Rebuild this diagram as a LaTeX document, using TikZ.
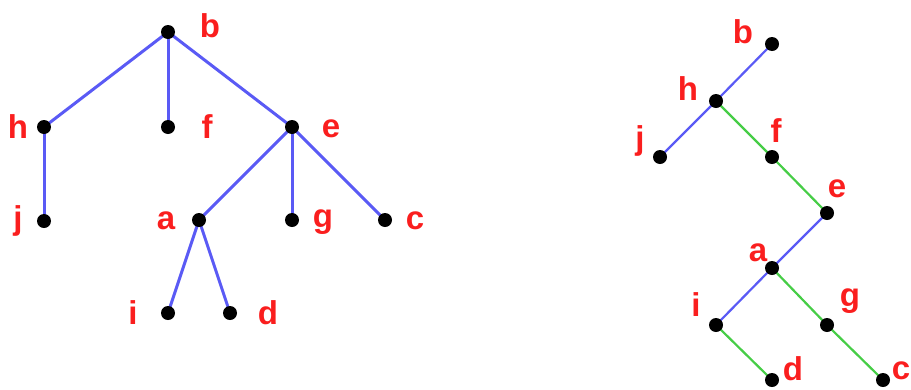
\documentclass[tikz,border=0pt]{standalone}
\usepackage{fontspec}
\setmainfont{Liberation Sans}
\usetikzlibrary{backgrounds}
\definecolor{edgeblue}{RGB}{90,90,245}
\definecolor{edgegreen}{RGB}{70,205,70}
\definecolor{labelred}{RGB}{250,30,30}
\begin{document}
\begin{tikzpicture}[x=1pt,y=-1pt,
  vtx/.style={circle,fill=black,inner sep=0pt,minimum size=14pt},
  lbl/.style={text=labelred,font=\fontsize{33}{33}\selectfont\bfseries,inner sep=0pt,anchor=center},
  bl/.style={draw=edgeblue,line width=3pt},
  blthin/.style={draw=edgeblue,line width=2.2pt},
  gr/.style={draw=edgegreen,line width=2.2pt}]
\useasboundingbox (0,0) rectangle (911,389);

% left tree: vertices
\node[vtx] (Lb) at (168,32) {};
\node[vtx] (Lh) at (44,127) {};
\node[vtx] (Lf) at (168,127) {};
\node[vtx] (Le) at (292,127) {};
\node[vtx] (Lj) at (44,221) {};
\node[vtx] (La) at (199,220) {};
\node[vtx] (Lg) at (292,220) {};
\node[vtx] (Lc) at (385,220) {};
\node[vtx] (Li) at (168,313) {};
\node[vtx] (Ld) at (230,313) {};

% left tree: edges, kept under the vertices
\begin{pgfonlayer}{background}
\draw[bl] (Lb.center) -- (Lh.center);
\draw[bl] (Lb.center) -- (Lf.center);
\draw[bl] (Lb.center) -- (Le.center);
\draw[bl] (Lh.center) -- (Lj.center);
\draw[bl] (Le.center) -- (La.center);
\draw[bl] (Le.center) -- (Lg.center);
\draw[bl] (Le.center) -- (Lc.center);
\draw[bl] (La.center) -- (Li.center);
\draw[bl] (La.center) -- (Ld.center);
\end{pgfonlayer}

% left tree: labels
\node[lbl] (tLb) at (210,26) {b};
\node[lbl] (tLh) at (18,127) {h};
\node[lbl] (tLf) at (207,127) {f};
\node[lbl] (tLe) at (331,129) {e};
\node[lbl] (tLj) at (18,221) {j};
\node[lbl] (tLa) at (166,221) {a};
\node[lbl] (tLg) at (323,222) {g};
\node[lbl] (tLc) at (415,221) {c};
\node[lbl] (tLi) at (133,313) {i};
\node[lbl] (tLd) at (268,313) {d};

% right tree: vertices
\node[vtx] (Rb) at (772,44) {};
\node[vtx] (Rh) at (716,101) {};
\node[vtx] (Rj) at (660,157) {};
\node[vtx] (Rf) at (772,157) {};
\node[vtx] (Re) at (827,213) {};
\node[vtx] (Ra) at (772,268) {};
\node[vtx] (Ri) at (716,325) {};
\node[vtx] (Rg) at (827,325) {};
\node[vtx] (Rd) at (772,380) {};
\node[vtx] (Rc) at (883,380) {};

% right tree: edges, kept under the vertices
\begin{pgfonlayer}{background}
\draw[blthin] (Rb.center) -- (Rh.center);
\draw[blthin] (Rh.center) -- (Rj.center);
\draw[gr] (Rh.center) -- (Rf.center);
\draw[gr] (Rf.center) -- (Re.center);
\draw[blthin] (Re.center) -- (Ra.center);
\draw[blthin] (Ra.center) -- (Ri.center);
\draw[gr] (Ra.center) -- (Rg.center);
\draw[gr] (Ri.center) -- (Rd.center);
\draw[gr] (Rg.center) -- (Rc.center);
\end{pgfonlayer}

% right tree: labels
\node[lbl] (tRb) at (743,32) {b};
\node[lbl] (tRh) at (688,89) {h};
\node[lbl] (tRj) at (640,141) {j};
\node[lbl] (tRf) at (776,131) {f};
\node[lbl] (tRe) at (837,189) {e};
\node[lbl] (tRa) at (758,253) {a};
\node[lbl] (tRi) at (696,305) {i};
\node[lbl] (tRg) at (850,301) {g};
\node[lbl] (tRd) at (793,369) {d};
\node[lbl] (tRc) at (901,371) {c};
\end{tikzpicture}
\end{document}
